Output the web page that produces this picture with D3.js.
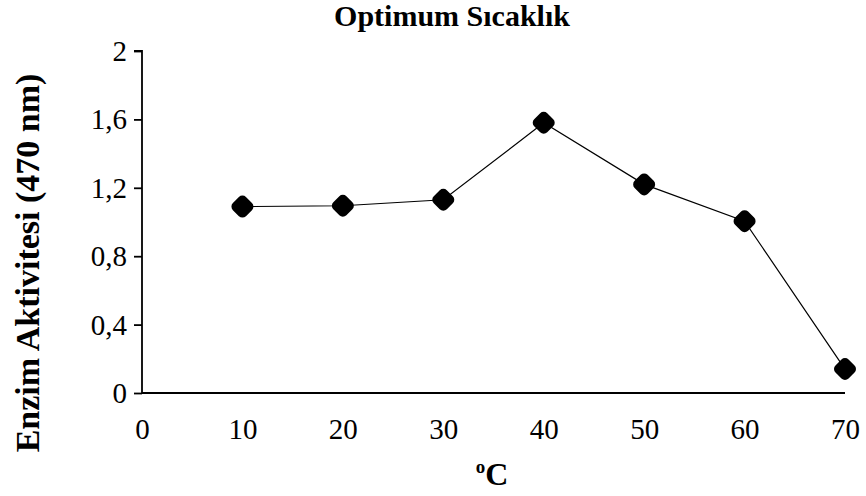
<!DOCTYPE html>
<html><head><meta charset="utf-8">
<script src="https://cdn.jsdelivr.net/npm/d3@7"></script>
<style>body{margin:0;background:#fff}svg{display:block}</style>
</head><body>
<svg id="c" width="866" height="496"></svg>
<script>
const temps = [10, 20, 30, 40, 50, 60, 70];
const activity = [1.09, 1.095, 1.13, 1.58, 1.22, 1.005, 0.14];
const xTicks = [0, 10, 20, 30, 40, 50, 60, 70];
const yTicks = [0, 0.4, 0.8, 1.2, 1.6, 2];
const title = "Optimum Sıcaklık";
const yLabel = "Enzim Aktivitesi (470 nm)";

const svg = d3.select("#c");
const font = "'Liberation Serif','Times New Roman',serif";
const x = d3.scaleLinear().domain([0, 70]).range([142, 845]);
const y = d3.scaleLinear().domain([0, 2]).range([393, 51]);
const fmt = d => String(+d.toFixed(1)).replace(".", ",");

// y axis
const ya = svg.append("g").attr("transform", `translate(${x(0)},0)`)
  .call(d3.axisLeft(y).tickValues(yTicks).tickSize(8).tickPadding(7).tickFormat(fmt));
ya.select(".domain").attr("stroke-width", 1.8).attr("d", `M-8,${y(2)}H0V${y(0)}`);
ya.selectAll(".tick line").attr("stroke-width", 1.8);
ya.selectAll("text").attr("font-family", font).attr("font-size", 29).attr("fill", "#000").attr("dy", "0.33em");

// x axis
const xa = svg.append("g").attr("transform", `translate(0,${y(0)})`)
  .call(d3.axisBottom(x).tickValues(xTicks).tickSize(0).tickPadding(25).tickFormat(d => d));
xa.select(".domain").attr("stroke-width", 1.8).attr("d", `M${x(0)},0H${x(70)}`);
xa.selectAll("text").attr("font-family", font).attr("font-size", 29).attr("fill", "#000").attr("dy", "0.71em");

// line
const pts = temps.map((t, i) => [t, activity[i]]);
svg.append("path").datum(pts)
  .attr("d", d3.line().x(d => x(d[0])).y(d => y(d[1])))
  .attr("fill", "none").attr("stroke", "#000").attr("stroke-width", 1.2);

// markers
const s = 6;
svg.selectAll(".m").data(pts).join("path")
  .attr("transform", d => `translate(${x(d[0])},${y(d[1])})`)
  .attr("d", `M0,${-s}L${s},0L0,${s}L${-s},0Z`)
  .attr("fill", "#000").attr("stroke", "#000").attr("stroke-width", 10).attr("stroke-linejoin", "round");

// title
svg.append("text").attr("x", 452).attr("y", 26).attr("text-anchor", "middle")
  .attr("font-family", font).attr("font-weight", "bold").attr("font-size", 30).text(title);

// y label
svg.append("text").attr("transform", "translate(39,263) rotate(-90)").attr("text-anchor", "middle")
  .attr("font-family", font).attr("font-weight", "bold").attr("font-size", 34).text(yLabel);

// x label
const xl = svg.append("text").attr("x", 492).attr("y", 485).attr("text-anchor", "middle")
  .attr("font-family", font).attr("font-weight", "bold").attr("font-size", 32);
xl.append("tspan").attr("font-size", 19).attr("dy", -12).text("o");
xl.append("tspan").attr("dy", 12).text("C");
</script>
</body></html>
